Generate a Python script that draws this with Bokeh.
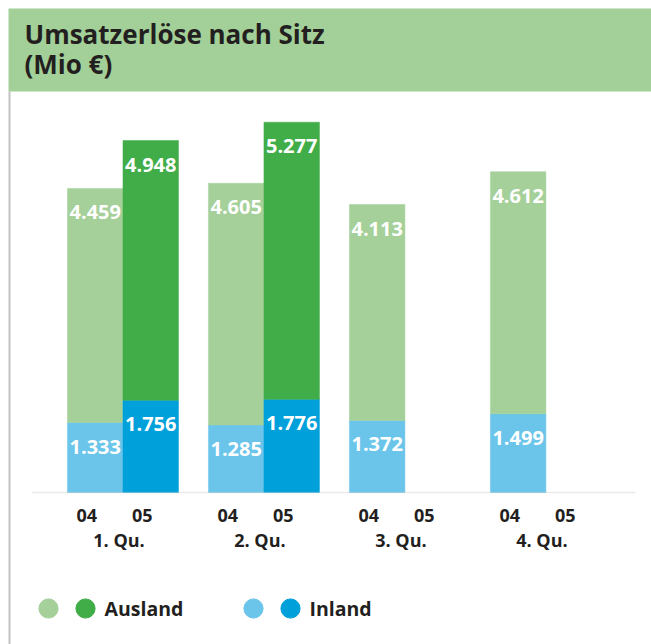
from bokeh.plotting import figure
from bokeh.models import (FactorRange, Range1d, ColumnDataSource, BoxAnnotation,
                          Label, Legend, LegendItem)
from bokeh.transform import dodge
from bokeh.core.properties import value
from bokeh.embed import file_html
from bokeh.resources import INLINE

# ---------------- data ----------------
quarters = ["1. Qu.", "2. Qu.", "3. Qu.", "4. Qu."]
years = ["04", "05"]
inland_04 = [1333, 1285, 1372, 1499]
ausland_04 = [4459, 4605, 4113, 4612]
inland_05 = [1756, 1776]
ausland_05 = [4948, 5277]
series_names = ["Ausland", "Inland"]
title_lines = ["Umsatzerlöse nach Sitz", "(Mio €)"]

# ---------------- style ----------------
C_AUS_04 = "#a5d09a"
C_AUS_05 = "#41ad49"
C_INL_04 = "#6bc5ea"
C_INL_05 = "#00a0db"
C_HEAD = "#a3cf98"
C_TEXT = "#231f20"
FONT = "Open Sans"

W, H = 651, 644
BASE_PX = 492             # canvas y of the zero line
PX_PER_VAL = 52.5 / 1000  # pixels per Mio €


def py(cy):
    """canvas pixel row -> data value"""
    return (BASE_PX - cy) / PX_PER_VAL


def fmt(v):
    return f"{v:,}".replace(",", ".")


factors = [(q, y) for q in quarters for y in years]
x_range = FactorRange(*factors, group_padding=0.54, range_padding=0.2193,
                      range_padding_units="percent")
y_range = Range1d(py(H), py(0))

p = figure(width=W, height=H, x_range=x_range, y_range=y_range,
           output_backend="svg", toolbar_location=None, y_axis_location=None,
           min_border=0)
p.outline_line_color = None
p.xgrid.grid_line_color = None
p.ygrid.grid_line_color = None
p.background_fill_color = "white"
p.border_fill_color = "white"

SHIFT = 0.152

def make_src(qs, yr, inl, aus):
    n = len(inl)
    return ColumnDataSource(dict(
        x=[(q, yr) for q in qs[:n]],
        inland=inl,
        total=[a + b for a, b in zip(inl, aus)],
        inl_lbl=[fmt(v) for v in inl],
        aus_lbl=[fmt(v) for v in aus],
    ))

src04 = make_src(quarters, "04", inland_04, ausland_04)
src05 = make_src(quarters, "05", inland_05, ausland_05)

for src, c_inl, c_aus in [(src04, C_INL_04, C_AUS_04), (src05, C_INL_05, C_AUS_05)]:
    xd = dodge("x", SHIFT, range=x_range)
    p.vbar(x=xd, bottom=0, top="inland", width=1.0, source=src,
           fill_color=c_inl, line_color=c_inl, line_width=0.5)
    p.vbar(x=xd, bottom="inland", top="total", width=1.0, source=src,
           fill_color=c_aus, line_color=c_aus, line_width=0.5)
    for ycol, tcol in [("inland", "inl_lbl"), ("total", "aus_lbl")]:
        p.text(x=xd, y=ycol, text=tcol, source=src, y_offset=24,
               text_align="center", text_baseline="middle",
               text_color="white", text_font=value(FONT),
               text_font_style="bold", text_font_size="20px")

# x axis (year labels) drawn at the zero line
ax = p.xaxis[0]
ax.fixed_location = 0
ax.axis_line_color = None
ax.major_tick_line_color = None
ax.minor_tick_line_color = None
ax.major_tick_out = 0
ax.major_tick_in = 0
ax.separator_line_color = None
ax.major_label_text_font = FONT
ax.major_label_text_font_style = "bold"
ax.major_label_text_font_size = "18px"
ax.major_label_text_color = C_TEXT
ax.major_label_standoff = 16
ax.group_text_color = None

# quarter (group) labels under the year labels
qsrc = ColumnDataSource(dict(x=quarters, y=[0] * len(quarters), t=quarters))
p.text(x=dodge("x", 0.08, range=x_range), y="y", text="t", source=qsrc,
       y_offset=47, text_align="center", text_baseline="middle",
       text_color=C_TEXT, text_font=value(FONT), text_font_style="bold",
       text_font_size="18px")

# zero line
p.add_layout(BoxAnnotation(left=31, right=635, left_units="screen", right_units="screen",
                           top=0, bottom=0, fill_alpha=0, line_color="#b8b8b8",
                           line_width=1.5))
# header band and left rule
p.add_layout(BoxAnnotation(left=8, left_units="screen", top=py(8), bottom=py(91),
                           fill_color=C_HEAD, fill_alpha=1,
                           line_color=None, level="underlay"))
p.add_layout(BoxAnnotation(left=8, right=10, left_units="screen", right_units="screen",
                           top=py(91), fill_color="#c2c2c2", fill_alpha=1,
                           line_color=None, level="underlay"))

for txt, cy in zip(title_lines, [33, 63]):
    p.add_layout(Label(x=24, x_units="screen", y=py(cy), text=txt,
                       text_font=FONT, text_font_style="bold",
                       text_font_size="26px", text_color=C_TEXT,
                       text_baseline="alphabetic"))

# legend: two circles per series, then the series name
def dummy(color):
    return p.scatter(x=[factors[0]], y=[float("nan")], marker="circle",
                     fill_color=color, line_color=color, size=10)

LEG_Y = 608
leg_specs = [(series_names[0], C_AUS_04, C_AUS_05, 48, 85, 104),
             (series_names[1], C_INL_04, C_INL_05, 253, 290, 309)]
for name, c1, c2, cx1, cx2, tx in leg_specs:
    for color, cx in [(c1, cx1), (c2, cx2)]:
        r = dummy(color)
        leg = Legend(items=[LegendItem(label="", renderers=[r])],
                     orientation="horizontal", location=(cx - 24, H - LEG_Y - 24),
                     glyph_width=48, glyph_height=48, label_standoff=0,
                     spacing=0, label_width=0, padding=0, margin=0,
                     border_line_color=None, background_fill_alpha=0)
        p.add_layout(leg)
    p.add_layout(Label(x=tx, x_units="screen", y=py(LEG_Y), text=name,
                       text_font=FONT, text_font_style="bold",
                       text_font_size="19.5px", text_color=C_TEXT,
                       text_baseline="middle"))

open("out.html", "w").write(file_html(p, INLINE))
